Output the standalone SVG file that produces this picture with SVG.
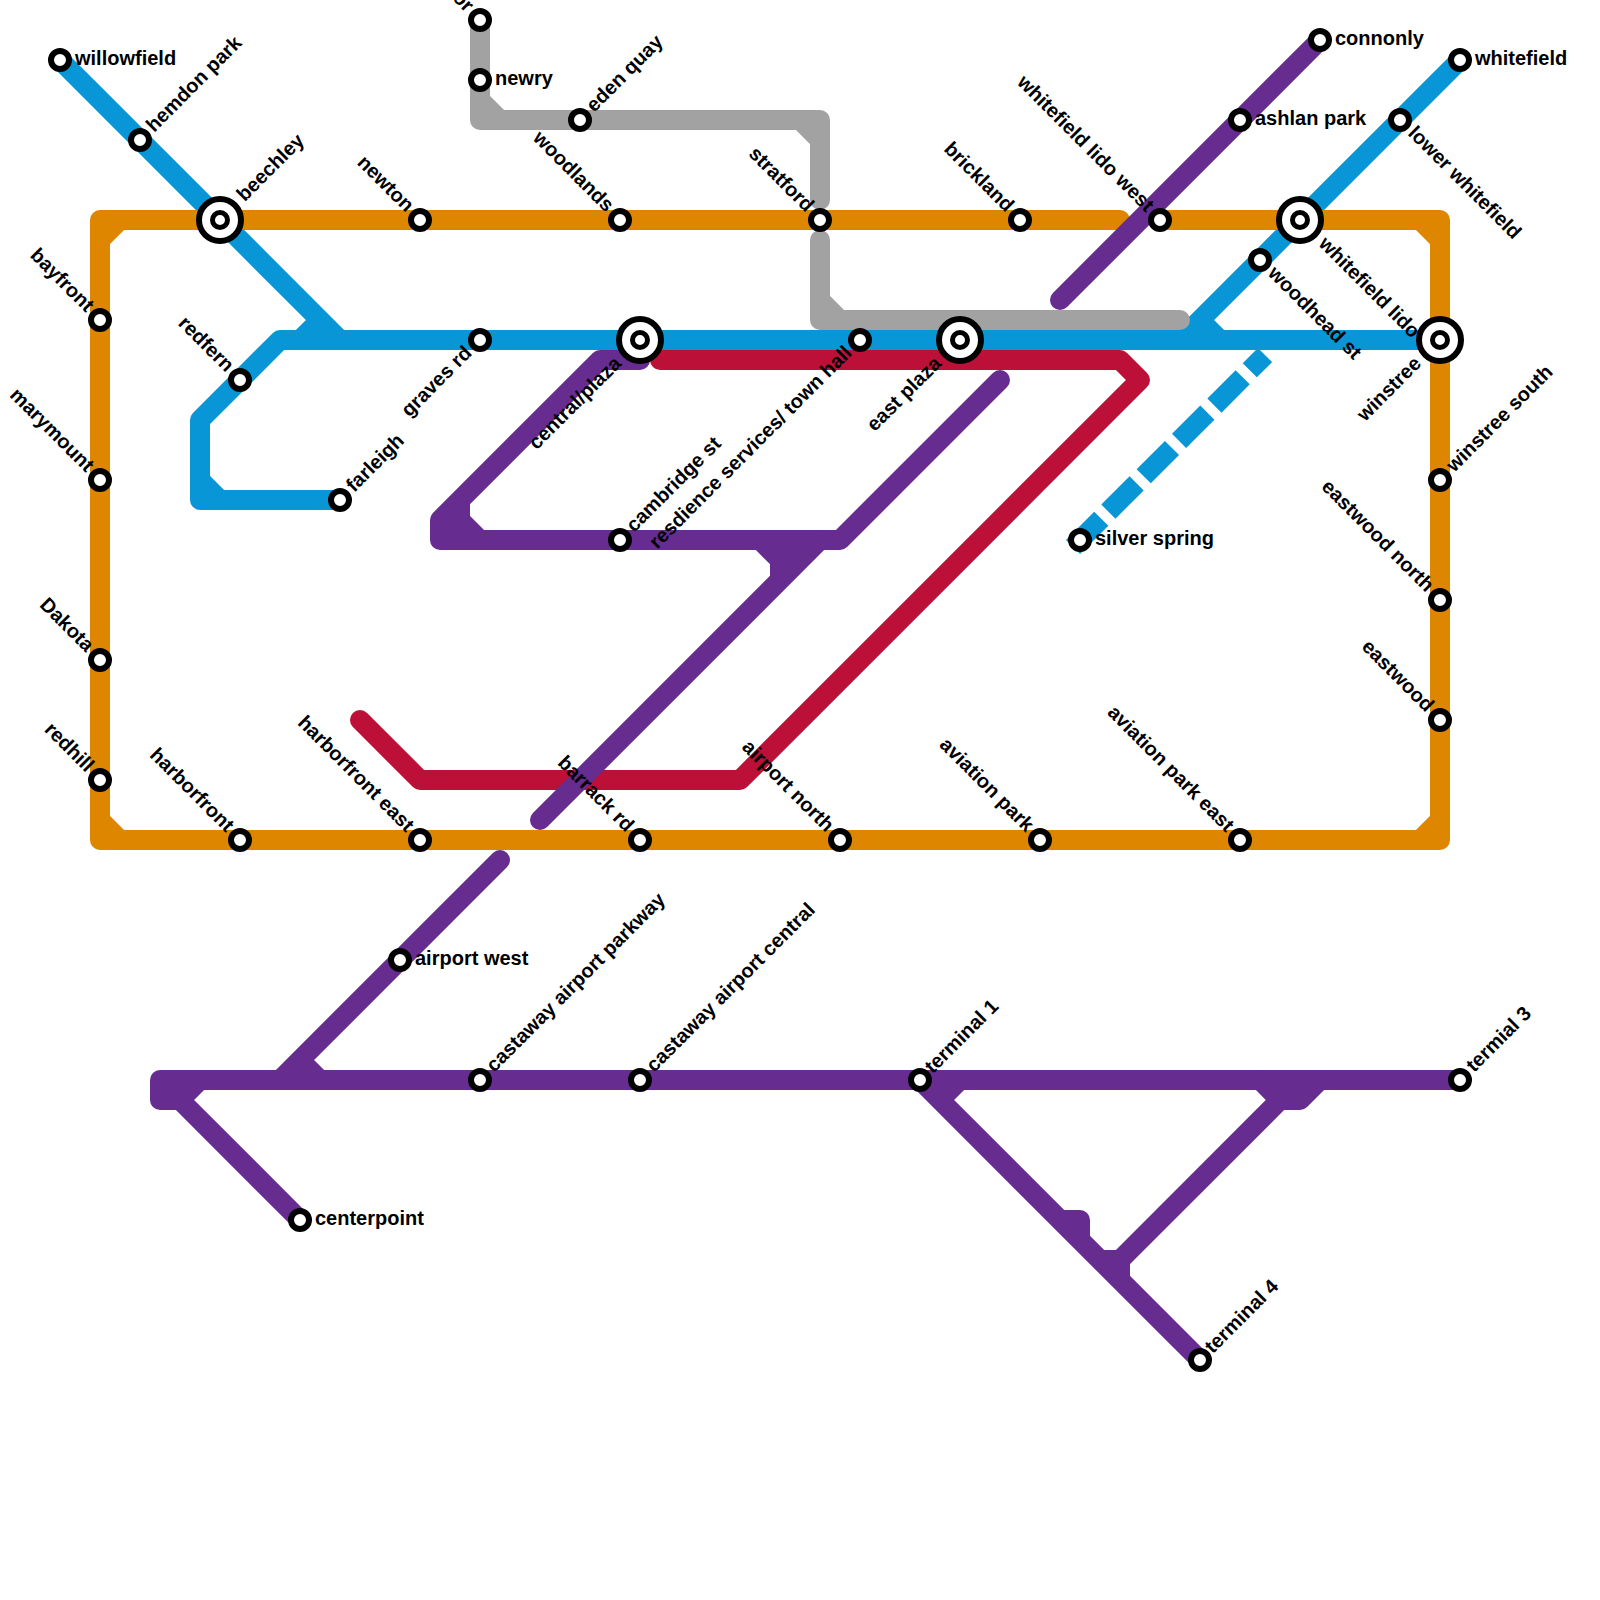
<svg xmlns="http://www.w3.org/2000/svg" width="1600" height="1600" viewBox="0 0 1600 1600">
<style>
.l{fill:none;stroke-width:20;stroke-linecap:round;stroke-linejoin:round}
.o{stroke:#df8600}.b{stroke:#0896d7}.g{stroke:#a2a2a2}.p{stroke:#662c90}.r{stroke:#bd1038}
.s{fill:#fff;stroke:#000;stroke-width:6}
.i{fill:#fff;stroke:#000;stroke-width:6}
.d{fill:#fff;stroke:#000;stroke-width:5}
text{font-family:"Liberation Sans",Arial,sans-serif;font-size:20px;font-weight:bold;fill:#000}
.e{text-anchor:end}
</style>
<defs>
<circle id="st" class="s" r="9"/>
<g id="ic"><circle class="i" r="21"/><circle class="d" r="7.5"/></g>
</defs>
<rect width="1600" height="1600" fill="#fff"/>
<g id="connectors">
<path class="l b" d="M60 60L340 340M320 320L300 340M1440 340H280L200 420V500H340M200 480L220 500"/>
<path class="l b" d="M1460 60L1180 340M1200 320L1220 340"/>
<path class="b" fill="none" stroke-width="20" stroke-dasharray="40 10" d="M1073 547L1265 355"/>
<path class="l o" d="M1120 220H100V840H1440V220H1160M100 240L120 220M1420 220L1440 240M1440 820L1420 840M100 820L120 840"/>
<path class="l g" d="M480 20V120H820V200M480 100L500 120M800 120L820 140M820 240V320H1180M820 300L840 320"/>
<path class="l r" d="M660 360H1120L1140 380L740 780H420L360 720"/>
<path class="l p" d="M1320 40L1060 300"/>
<path class="l p" d="M640 360H600L440 520V540H840L1000 380M460 500V520L480 540M440 530H465"/>
<path class="l p" d="M820 540L540 820M760 540L780 560V580M780 560L800 540"/>
<path class="l p" d="M500 860L280 1080M300 1060L320 1080"/>
<path class="l p" d="M1460 1080H160V1100H180L300 1220M180 1100L200 1080"/>
<path class="l p" d="M920 1080L1200 1360M940 1100L960 1080M1060 1220H1080V1240M1100 1260H1120V1280"/>
<path class="l p" d="M1120 1260L1280 1100H1300L1320 1080M1260 1080L1280 1100"/>
</g>
<g id="willowfield"><use href="#st" x="60" y="60"/><text transform="translate(60 60) translate(15 5)">willowfield</text></g>
<g id="hemdon-park"><use href="#st" x="140" y="140"/><text transform="translate(140 140) rotate(-45) translate(15 5)">hemdon park</text></g>
<g id="beechley"><use href="#ic" x="220" y="220"/><text transform="translate(220 220) rotate(-45) translate(30 5)">beechley</text></g>
<g id="newton"><use href="#st" x="420" y="220"/><text class="e" transform="translate(420 220) rotate(45) translate(-15 5)">newton</text></g>
<g id="woodlands"><use href="#st" x="620" y="220"/><text class="e" transform="translate(620 220) rotate(45) translate(-15 5)">woodlands</text></g>
<g id="stratford"><use href="#st" x="820" y="220"/><text class="e" transform="translate(820 220) rotate(45) translate(-15 5)">stratford</text></g>
<g id="brickland"><use href="#st" x="1020" y="220"/><text class="e" transform="translate(1020 220) rotate(45) translate(-15 5)">brickland</text></g>
<g id="whitefield-lido-west"><use href="#st" x="1160" y="220"/><text class="e" transform="translate(1160 220) rotate(45) translate(-15 5)">whitefield lido west</text></g>
<g id="whitefield-lido"><use href="#ic" x="1300" y="220"/><text transform="translate(1300 220) rotate(45) translate(30 5)">whitefield lido</text></g>
<g id="lower-whitefield"><use href="#st" x="1400" y="120"/><text transform="translate(1400 120) rotate(45) translate(15 5)">lower whitefield</text></g>
<g id="whitefield"><use href="#st" x="1460" y="60"/><text transform="translate(1460 60) translate(15 5)">whitefield</text></g>
<g id="connonly"><use href="#st" x="1320" y="40"/><text transform="translate(1320 40) translate(15 5)">connonly</text></g>
<g id="ashlan-park"><use href="#st" x="1240" y="120"/><text transform="translate(1240 120) translate(15 5)">ashlan park</text></g>
<g id="woodhead-st"><use href="#st" x="1260" y="260"/><text transform="translate(1260 260) rotate(45) translate(15 5)">woodhead st</text></g>
<g id="winstree"><use href="#ic" x="1440" y="340"/><text class="e" transform="translate(1440 340) rotate(-45) translate(-30 5)">winstree</text></g>
<g id="winstree-south"><use href="#st" x="1440" y="480"/><text transform="translate(1440 480) rotate(-45) translate(15 5)">winstree south</text></g>
<g id="eastwood-north"><use href="#st" x="1440" y="600"/><text class="e" transform="translate(1440 600) rotate(45) translate(-15 5)">eastwood north</text></g>
<g id="eastwood"><use href="#st" x="1440" y="720"/><text class="e" transform="translate(1440 720) rotate(45) translate(-15 5)">eastwood</text></g>
<g id="aviation-park-east"><use href="#st" x="1240" y="840"/><text class="e" transform="translate(1240 840) rotate(45) translate(-15 5)">aviation park east</text></g>
<g id="aviation-park"><use href="#st" x="1040" y="840"/><text class="e" transform="translate(1040 840) rotate(45) translate(-15 5)">aviation park</text></g>
<g id="airport-north"><use href="#st" x="840" y="840"/><text class="e" transform="translate(840 840) rotate(45) translate(-15 5)">airport north</text></g>
<g id="barrack-rd"><use href="#st" x="640" y="840"/><text class="e" transform="translate(640 840) rotate(45) translate(-15 5)">barrack rd</text></g>
<g id="harborfront-east"><use href="#st" x="420" y="840"/><text class="e" transform="translate(420 840) rotate(45) translate(-15 5)">harborfront east</text></g>
<g id="harborfront"><use href="#st" x="240" y="840"/><text class="e" transform="translate(240 840) rotate(45) translate(-15 5)">harborfront</text></g>
<g id="redhill"><use href="#st" x="100" y="780"/><text class="e" transform="translate(100 780) rotate(45) translate(-15 5)">redhill</text></g>
<g id="dakota"><use href="#st" x="100" y="660"/><text class="e" transform="translate(100 660) rotate(45) translate(-15 5)">Dakota</text></g>
<g id="marymount"><use href="#st" x="100" y="480"/><text class="e" transform="translate(100 480) rotate(45) translate(-15 5)">marymount</text></g>
<g id="bayfront"><use href="#st" x="100" y="320"/><text class="e" transform="translate(100 320) rotate(45) translate(-15 5)">bayfront</text></g>
<g id="redfern"><use href="#st" x="240" y="380"/><text class="e" transform="translate(240 380) rotate(45) translate(-15 5)">redfern</text></g>
<g id="farleigh"><use href="#st" x="340" y="500"/><text transform="translate(340 500) rotate(-45) translate(15 5)">farleigh</text></g>
<g id="graves-rd"><use href="#st" x="480" y="340"/><text class="e" transform="translate(480 340) rotate(-45) translate(-15 5)">graves rd</text></g>
<g id="central-plaza"><use href="#ic" x="640" y="340"/><text class="e" transform="translate(640 340) rotate(-45) translate(-30 5)">central/plaza</text></g>
<g id="resdience"><use href="#st" x="860" y="340"/><text class="e" transform="translate(860 340) rotate(-45) translate(-15 5)">resdience services/ town hall</text></g>
<g id="east-plaza"><use href="#ic" x="960" y="340"/><text class="e" transform="translate(960 340) rotate(-45) translate(-30 5)">east plaza</text></g>
<g id="top-station"><use href="#st" x="480" y="20"/><text class="e" transform="translate(480 20) rotate(45) translate(-15 5)">or</text></g>
<g id="newry"><use href="#st" x="480" y="80"/><text transform="translate(480 80) translate(15 5)">newry</text></g>
<g id="eden-quay"><use href="#st" x="580" y="120"/><text transform="translate(580 120) rotate(-45) translate(15 5)">eden quay</text></g>
<g id="cambridge-st"><use href="#st" x="620" y="540"/><text transform="translate(620 540) rotate(-45) translate(15 5)">cambridge st</text></g>
<g id="silver-spring"><use href="#st" x="1080" y="540"/><text transform="translate(1080 540) translate(15 5)">silver spring</text></g>
<g id="airport-west"><use href="#st" x="400" y="960"/><text transform="translate(400 960) translate(15 5)">airport west</text></g>
<g id="castaway-airport-parkway"><use href="#st" x="480" y="1080"/><text transform="translate(480 1080) rotate(-45) translate(15 5)">castaway airport parkway</text></g>
<g id="castaway-airport-central"><use href="#st" x="640" y="1080"/><text transform="translate(640 1080) rotate(-45) translate(15 5)">castaway airport central</text></g>
<g id="terminal-1"><use href="#st" x="920" y="1080"/><text transform="translate(920 1080) rotate(-45) translate(13 5)">terminal 1</text></g>
<g id="termial-3"><use href="#st" x="1460" y="1080"/><text transform="translate(1460 1080) rotate(-45) translate(15 5)">termial 3</text></g>
<g id="terminal-4"><use href="#st" x="1200" y="1360"/><text transform="translate(1200 1360) rotate(-45) translate(13 5)">terminal 4</text></g>
<g id="centerpoint"><use href="#st" x="300" y="1220"/><text transform="translate(300 1220) translate(15 5)">centerpoint</text></g>
</svg>
